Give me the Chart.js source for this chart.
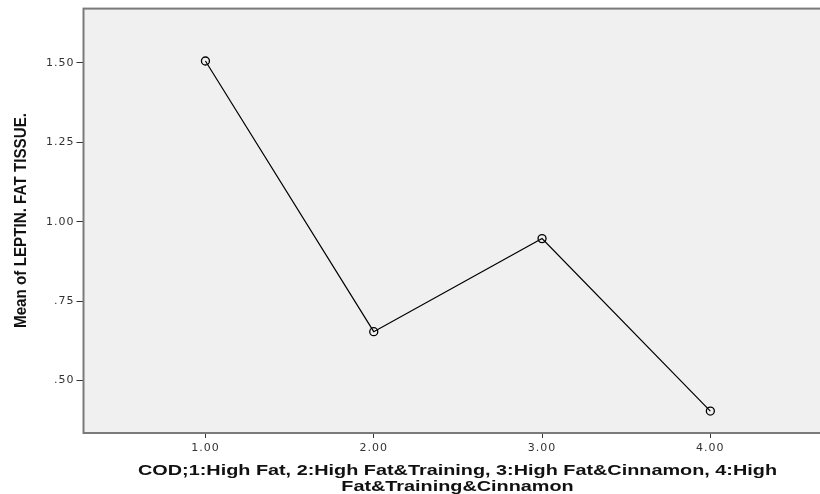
<!DOCTYPE html>
<html lang="en">
<head>
    <meta charset="UTF-8">
    <title>Mean of LEPTIN. FAT TISSUE.</title>
    <script src="https://cdn.jsdelivr.net/npm/chart.js"></script>
    <style>
        html, body { margin: 0; padding: 0; background: #fff; }
        #wrap { width: 820px; height: 494px; }
    </style>
</head>
<body>
    <div id="wrap"><canvas id="meanPlot"></canvas></div>

    <script>
        // groups (COD) and their means
        const groups = [1, 2, 3, 4];
        const means = [1.506, 0.654, 0.947, 0.404];
        const xTicks = [1, 2, 3, 4];
        const yTicks = [0.50, 0.75, 1.00, 1.25, 1.50];

        const xTitle = ['COD;1:High Fat, 2:High Fat&Training, 3:High Fat&Cinnamon, 4:High',
                        'Fat&Training&Cinnamon'];
        const yTitle = 'Mean of LEPTIN. FAT TISSUE.';

        // SPSS draws its text wide, so tick labels get a little letter spacing
        const spacing = {
            id: 'spacing',
            beforeLayout(chart) { chart.ctx.letterSpacing = '1px'; },
            beforeDraw(chart) { chart.ctx.letterSpacing = '1px'; }
        };

        // grey plot background + frame like the SPSS output (open on the right)
        const plotFrame = {
            id: 'plotFrame',
            beforeDatasetsDraw(chart) {
                const { ctx, chartArea: a } = chart;
                ctx.save();
                ctx.fillStyle = '#f0f0f0';
                ctx.fillRect(a.left, a.top, a.right - a.left + 10, a.bottom - a.top);
                ctx.strokeStyle = '#7a7a7a';
                ctx.lineWidth = 2;
                ctx.strokeRect(a.left, a.top, a.right - a.left + 10, a.bottom - a.top);
                ctx.restore();
            }
        };

        // axis titles, stretched to the width SPSS gives them
        const axisTitles = {
            id: 'axisTitles',
            afterDraw(chart) {
                const ctx = chart.ctx;
                ctx.save();
                ctx.letterSpacing = '0px';
                ctx.fillStyle = '#111';
                ctx.textAlign = 'center';
                ctx.textBaseline = 'middle';
                ctx.font = 'bold 14.5px "Liberation Sans", Arial, sans-serif';

                const sx = 639 / ctx.measureText(xTitle[0]).width;
                [470.5, 486.5].forEach((y, i) => {
                    ctx.save();
                    ctx.translate(457.5, y);
                    ctx.scale(sx, 1);
                    ctx.fillText(xTitle[i], 0, 0);
                    ctx.restore();
                });

                ctx.font = 'bold 17px "Liberation Sans", Arial, sans-serif';
                const sy = 215 / ctx.measureText(yTitle).width;
                ctx.translate(21, 220.5);
                ctx.rotate(-Math.PI / 2);
                ctx.scale(sy, 1);
                ctx.fillText(yTitle, 0, 0);
                ctx.restore();
            }
        };

        const fmtY = v => {
            const s = v.toFixed(2);
            return v < 1 ? s.replace(/^0/, '') : s;
        };

        const ctx = document.getElementById('meanPlot').getContext('2d');
        const chart = new Chart(ctx, {
            type: 'line',
            data: {
                datasets: [{
                    data: groups.map((g, i) => ({ x: g, y: means[i] })),
                    borderColor: '#000',
                    borderWidth: 1.2,
                    pointRadius: 4,
                    pointBorderWidth: 1.3,
                    pointBorderColor: '#000',
                    pointBackgroundColor: 'rgba(0,0,0,0)',
                    tension: 0
                }]
            },
            options: {
                responsive: true,
                maintainAspectRatio: false,
                animation: false,
                layout: { padding: { top: 4.5, right: 0, left: 0, bottom: 0 } },
                plugins: {
                    legend: { display: false },
                    tooltip: { enabled: false }
                },
                scales: {
                    x: {
                        type: 'linear',
                        min: 0.2755,
                        max: 4.62,
                        afterBuildTicks: s => { s.ticks = xTicks.map(v => ({ value: v })); },
                        afterFit: s => { s.height = 61; },
                        ticks: {
                            color: '#333',
                            font: { family: 'DejaVu Sans', size: 11 },
                            padding: 4,
                            callback: v => v.toFixed(2)
                        },
                        grid: { drawOnChartArea: false, tickLength: 5, color: '#333', lineWidth: 1 },
                        border: { color: '#333', width: 2 }
                    },
                    y: {
                        min: 0.335,
                        max: 1.671,
                        afterBuildTicks: s => { s.ticks = yTicks.map(v => ({ value: v })); },
                        afterFit: s => { s.width = 83.5; },
                        ticks: {
                            color: '#333',
                            font: { family: 'DejaVu Sans', size: 11 },
                            padding: 2,
                            callback: v => fmtY(v)
                        },
                        grid: { drawOnChartArea: false, tickLength: 7, color: '#333', lineWidth: 1 },
                        border: { color: '#333', width: 2 }
                    }
                }
            },
            plugins: [spacing, plotFrame, axisTitles]
        });
    </script>
</body>
</html>
